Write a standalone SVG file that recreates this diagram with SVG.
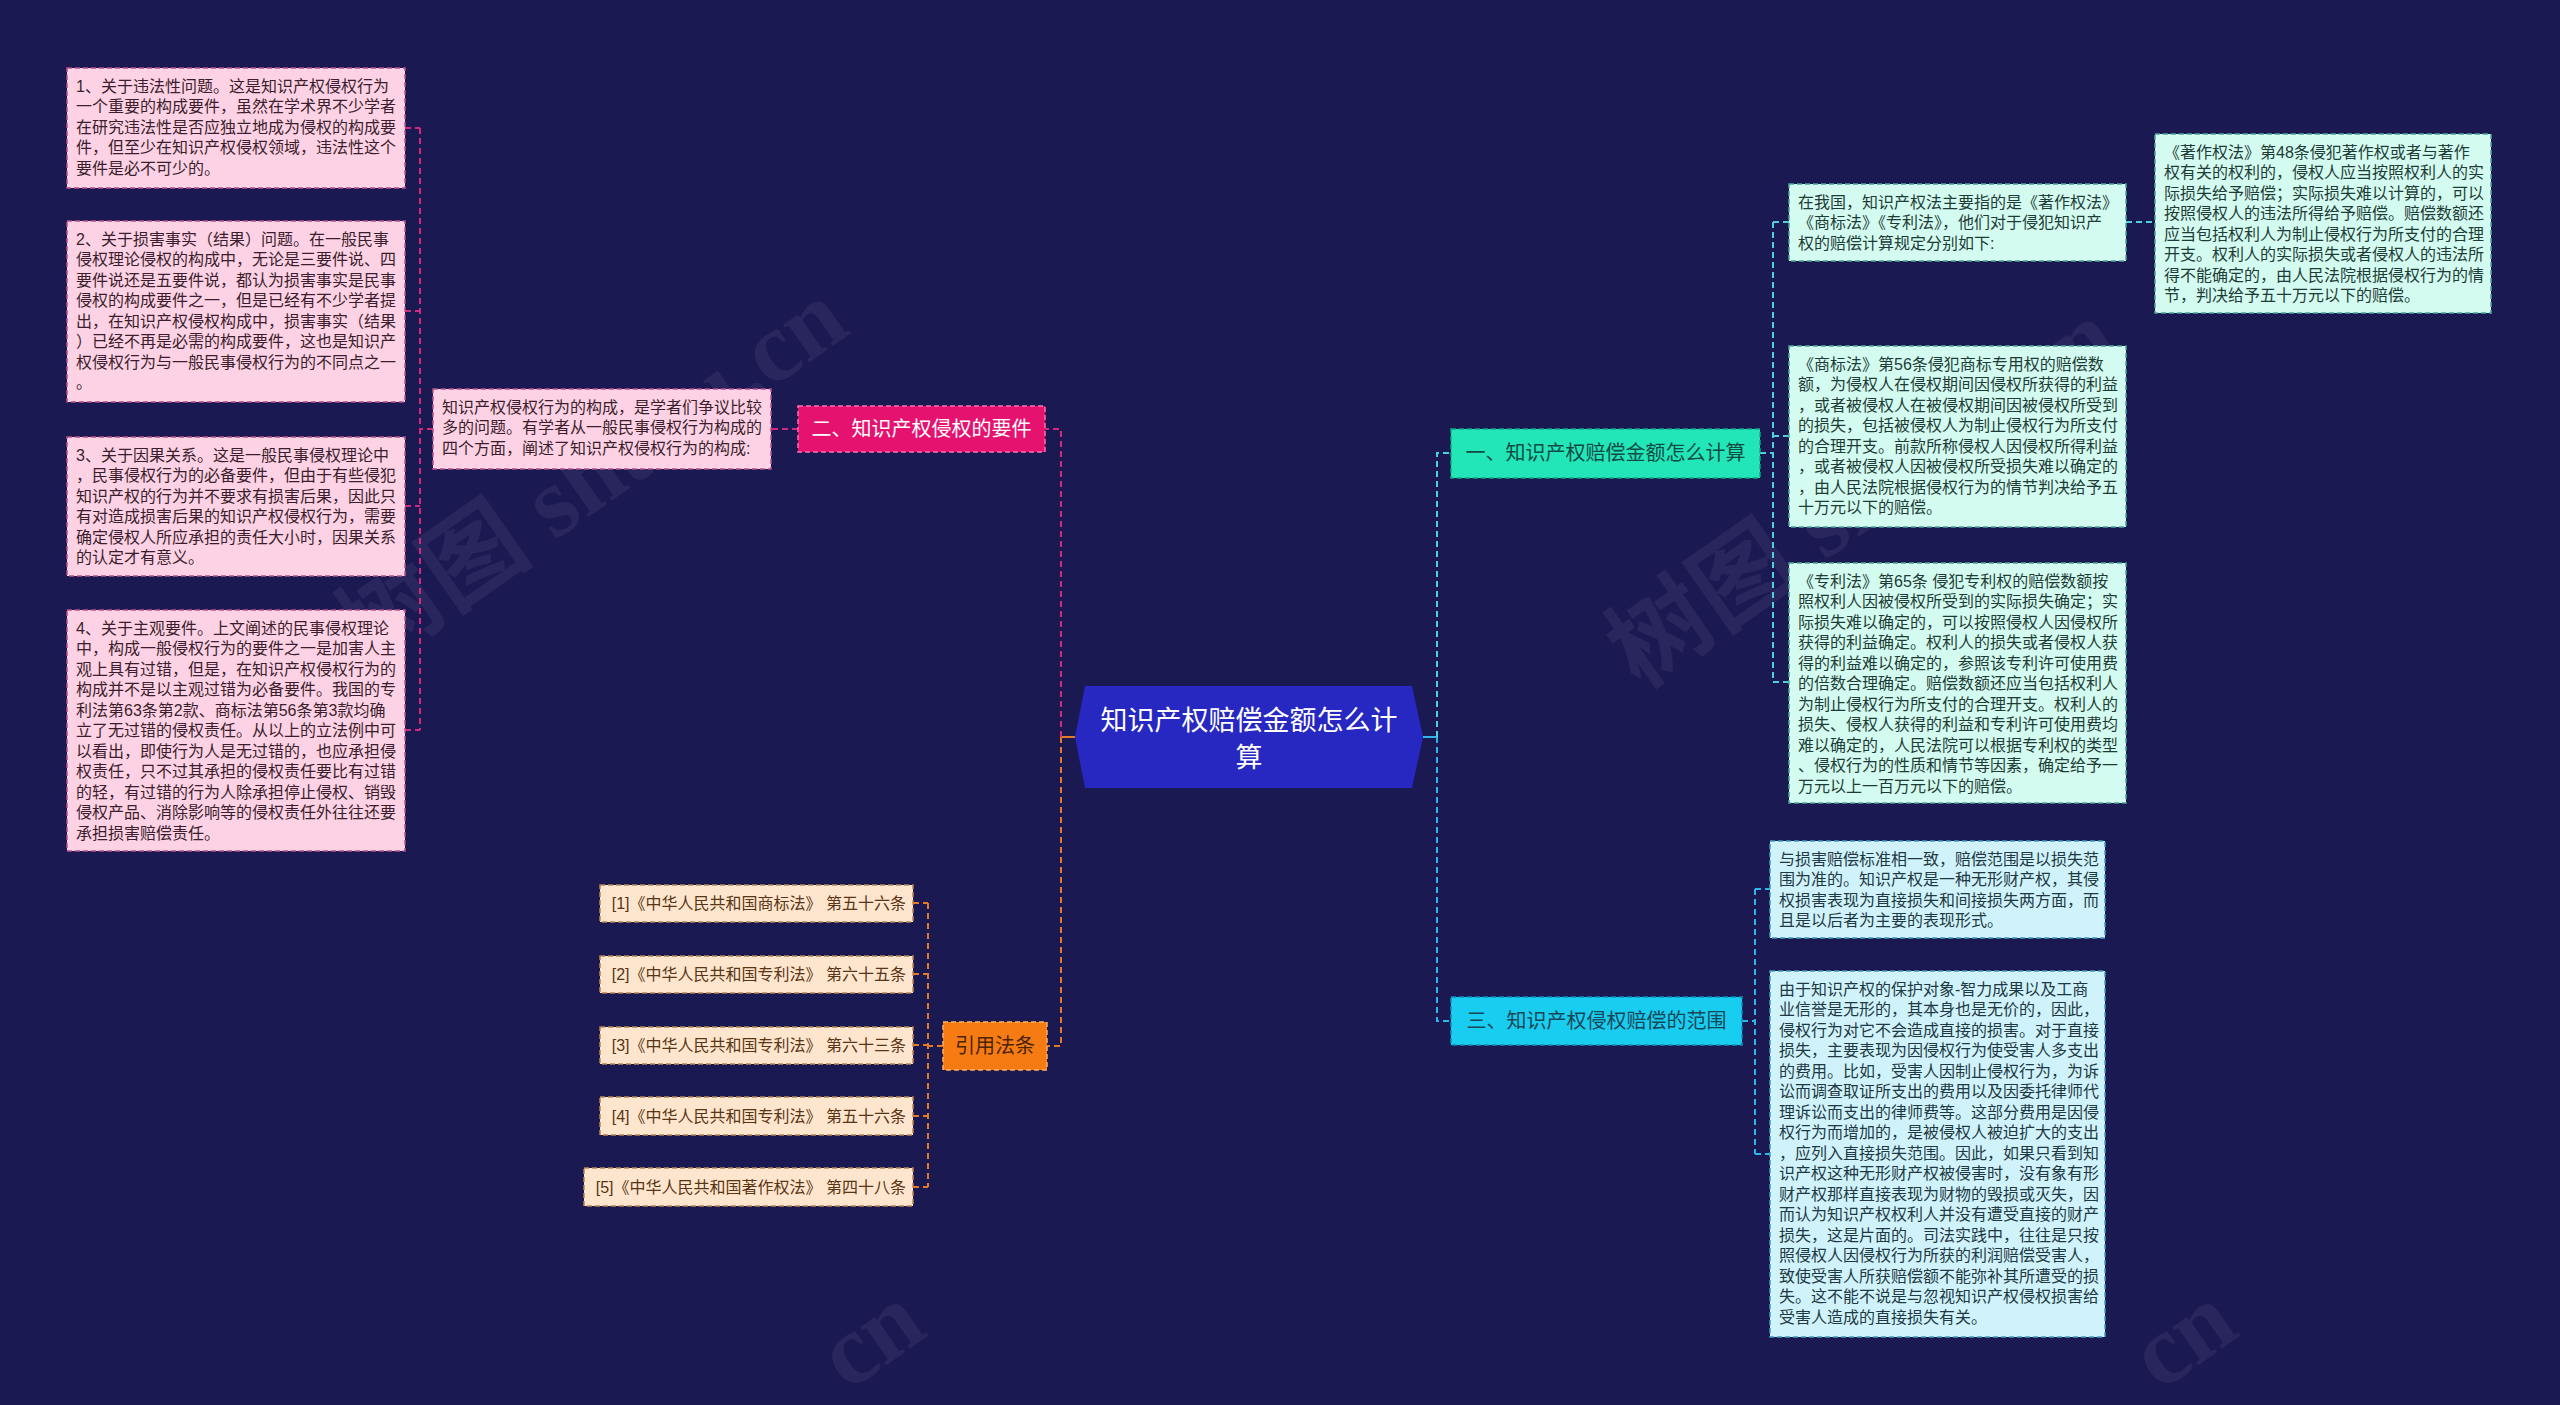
<svg xmlns="http://www.w3.org/2000/svg" width="2560" height="1405" viewBox="0 0 2560 1405">
<style>
text{font-family:"Liberation Sans","Noto Sans CJK SC",sans-serif;}
.t16{font-size:16px;}
.b20{font-size:20px;text-anchor:middle;}
.box{stroke-width:1.5;stroke-dasharray:5 3;}
.pinkLeaf{fill:#fdd2e4;stroke:#b8508a;}
.pinkTxt{fill:#3b1e2d;}
.mintLeaf{fill:#d3fbef;stroke:#4aa79a;}
.mintTxt{fill:#1f3b38;}
.skyLeaf{fill:#d0f3fb;stroke:#3f9cc0;}
.skyTxt{fill:#1e3944;}
.peachLeaf{fill:#fde6cd;stroke:#b98450;}
.peachTxt{fill:#5a3515;}
.cPink{fill:none;stroke:#d0297e;stroke-width:2;stroke-dasharray:6 4;}
.cTeal{fill:none;stroke:#4fcfdc;stroke-width:2;stroke-dasharray:6 4;}
.cSky{fill:none;stroke:#2eb6ea;stroke-width:2;stroke-dasharray:6 4;}
.cOrange{fill:none;stroke:#e27a28;stroke-width:2;stroke-dasharray:6 4;}
.wm{font-family:"Liberation Serif","Noto Sans CJK SC",serif;font-size:100px;fill:#ffffff;fill-opacity:0.06;font-weight:bold;}
</style>
<rect width="2560" height="1405" fill="#1b1952"/>

<!-- watermarks -->
<g id="watermarks">
<text class="wm" transform="translate(370,670) rotate(-35)">树图 shutu.cn</text>
<text class="wm" transform="translate(1640,690) rotate(-35)">树图 shutu.cn</text>
<text class="wm" transform="translate(848,1392) rotate(-35)">cn</text>
<text class="wm" transform="translate(2160,1392) rotate(-35)">cn</text>
</g>

<g id="connectors">
  <!-- left side from center -->
  <line x1="1075" y1="737" x2="1061" y2="737" stroke="#e27a28" stroke-width="2"/>
  <path class="cPink" d="M1061,737 V429 H1045"/>
  <path class="cOrange" d="M1061,737 V1046 H1047"/>
  <!-- branch 2 -->
  <path class="cPink" d="M798,429 H771"/>
  <path class="cPink" d="M433,429 H420"/>
  <path class="cPink" d="M420,128 V730"/>
  <path class="cPink" d="M405,128 H420 M405,311 H420 M405,506 H420 M405,730 H420"/>
  <!-- citations -->
  <path class="cOrange" d="M943,1046 H928"/>
  <path class="cOrange" d="M928,903 V1187"/>
  <path class="cOrange" d="M913,903 H928 M913,974 H928 M913,1045 H928 M913,1116 H928 M913,1187 H928"/>
  <!-- right side from center -->
  <line x1="1423" y1="737" x2="1437" y2="737" stroke="#2eb6ea" stroke-width="2"/>
  <path class="cTeal" d="M1437,737 V453 H1451"/>
  <path class="cSky" d="M1437,737 V1021 H1451"/>
  <!-- branch 1 -->
  <path class="cTeal" d="M1760,453 H1773"/>
  <path class="cTeal" d="M1773,222 V682"/>
  <path class="cTeal" d="M1773,222 H1789 M1773,436 H1789 M1773,682 H1789"/>
  <path class="cTeal" d="M2126,222 H2155"/>
  <!-- branch 3 -->
  <path class="cSky" d="M1742,1021 H1755"/>
  <path class="cSky" d="M1755,889 V1154"/>
  <path class="cSky" d="M1755,889 H1770 M1755,1154 H1770"/>
</g>

<g id="center">
  <polygon points="1075,737 1085,686 1412,686 1423,737 1412,788 1085,788" fill="#2727c2"/>
  <text x="1249" y="730" font-size="27" fill="#ffffff" text-anchor="middle">知识产权赔偿金额怎么计</text>
  <text x="1249" y="767" font-size="27" fill="#ffffff" text-anchor="middle">算</text>
</g>

<g id="branch-2">
  <rect class="box" x="798" y="406" width="247" height="46" fill="#e5136f" stroke="#ff6fae"/>
  <text class="b20" x="921.5" y="436" fill="#ffffff">二、知识产权侵权的要件</text>
</g>

<g id="branch-2-intro">
  <rect class="box pinkLeaf" x="433" y="389" width="338" height="80"/>
  <text class="t16 pinkTxt">
    <tspan x="442" y="412.5">知识产权侵权行为的构成，是学者们争议比较</tspan>
    <tspan x="442" y="433">多的问题。有学者从一般民事侵权行为构成的</tspan>
    <tspan x="442" y="453.5">四个方面，阐述了知识产权侵权行为的构成:</tspan>
  </text>
</g>

<g id="req-1">
  <rect class="box pinkLeaf" x="67" y="68" width="338" height="120"/>
  <text class="t16 pinkTxt">
    <tspan x="76" y="91.5">1、关于违法性问题。这是知识产权侵权行为</tspan>
    <tspan x="76" y="112">一个重要的构成要件，虽然在学术界不少学者</tspan>
    <tspan x="76" y="132.5">在研究违法性是否应独立地成为侵权的构成要</tspan>
    <tspan x="76" y="153">件，但至少在知识产权侵权领域，违法性这个</tspan>
    <tspan x="76" y="173.5">要件是必不可少的。</tspan>
  </text>
</g>

<g id="req-2">
  <rect class="box pinkLeaf" x="67" y="221" width="338" height="181"/>
  <text class="t16 pinkTxt">
    <tspan x="76" y="244.5">2、关于损害事实（结果）问题。在一般民事</tspan>
    <tspan x="76" y="265">侵权理论侵权的构成中，无论是三要件说、四</tspan>
    <tspan x="76" y="285.5">要件说还是五要件说，都认为损害事实是民事</tspan>
    <tspan x="76" y="306">侵权的构成要件之一，但是已经有不少学者提</tspan>
    <tspan x="76" y="326.5">出，在知识产权侵权构成中，损害事实（结果</tspan>
    <tspan x="76" y="347">）已经不再是必需的构成要件，这也是知识产</tspan>
    <tspan x="76" y="367.5">权侵权行为与一般民事侵权行为的不同点之一</tspan>
    <tspan x="76" y="388">。</tspan>
  </text>
</g>

<g id="req-3">
  <rect class="box pinkLeaf" x="67" y="437" width="338" height="139"/>
  <text class="t16 pinkTxt">
    <tspan x="76" y="460.5">3、关于因果关系。这是一般民事侵权理论中</tspan>
    <tspan x="76" y="481">，民事侵权行为的必备要件，但由于有些侵犯</tspan>
    <tspan x="76" y="501.5">知识产权的行为并不要求有损害后果，因此只</tspan>
    <tspan x="76" y="522">有对造成损害后果的知识产权侵权行为，需要</tspan>
    <tspan x="76" y="542.5">确定侵权人所应承担的责任大小时，因果关系</tspan>
    <tspan x="76" y="563">的认定才有意义。</tspan>
  </text>
</g>

<g id="req-4">
  <rect class="box pinkLeaf" x="67" y="610" width="338" height="241"/>
  <text class="t16 pinkTxt">
    <tspan x="76" y="633.5">4、关于主观要件。上文阐述的民事侵权理论</tspan>
    <tspan x="76" y="654">中，构成一般侵权行为的要件之一是加害人主</tspan>
    <tspan x="76" y="674.5">观上具有过错，但是，在知识产权侵权行为的</tspan>
    <tspan x="76" y="695">构成并不是以主观过错为必备要件。我国的专</tspan>
    <tspan x="76" y="715.5">利法第63条第2款、商标法第56条第3款均确</tspan>
    <tspan x="76" y="736">立了无过错的侵权责任。从以上的立法例中可</tspan>
    <tspan x="76" y="756.5">以看出，即使行为人是无过错的，也应承担侵</tspan>
    <tspan x="76" y="777">权责任，只不过其承担的侵权责任要比有过错</tspan>
    <tspan x="76" y="797.5">的轻，有过错的行为人除承担停止侵权、销毁</tspan>
    <tspan x="76" y="818">侵权产品、消除影响等的侵权责任外往往还要</tspan>
    <tspan x="76" y="838.5">承担损害赔偿责任。</tspan>
  </text>
</g>

<g id="branch-cite">
  <rect class="box" x="943" y="1022" width="104" height="48" fill="#f67b12" stroke="#ffb066"/>
  <text class="b20" x="995" y="1053" fill="#4a2408">引用法条</text>
</g>

<g id="cite-1">
  <rect class="box peachLeaf" x="600" y="885" width="313" height="37"/>
  <text class="t16 peachTxt" x="906" y="909" text-anchor="end">[1]《中华人民共和国商标法》 第五十六条</text>
</g>
<g id="cite-2">
  <rect class="box peachLeaf" x="600" y="956" width="313" height="37"/>
  <text class="t16 peachTxt" x="906" y="980" text-anchor="end">[2]《中华人民共和国专利法》 第六十五条</text>
</g>
<g id="cite-3">
  <rect class="box peachLeaf" x="600" y="1027" width="313" height="37"/>
  <text class="t16 peachTxt" x="906" y="1051" text-anchor="end">[3]《中华人民共和国专利法》 第六十三条</text>
</g>
<g id="cite-4">
  <rect class="box peachLeaf" x="600" y="1097" width="313" height="38"/>
  <text class="t16 peachTxt" x="906" y="1122" text-anchor="end">[4]《中华人民共和国专利法》 第五十六条</text>
</g>
<g id="cite-5">
  <rect class="box peachLeaf" x="584" y="1168" width="329" height="38"/>
  <text class="t16 peachTxt" x="906" y="1193" text-anchor="end">[5]《中华人民共和国著作权法》 第四十八条</text>
</g>

<g id="branch-1">
  <rect class="box" x="1451" y="429" width="309" height="49" fill="#22e6b8" stroke="#0fa884"/>
  <text class="b20" x="1605.5" y="460" fill="#124a44">一、知识产权赔偿金额怎么计算</text>
</g>

<g id="calc-intro">
  <rect class="box mintLeaf" x="1789" y="184" width="337" height="77"/>
  <text class="t16 mintTxt">
    <tspan x="1798" y="207.5">在我国，知识产权法主要指的是《著作权法》</tspan>
    <tspan x="1798" y="228">《商标法》《专利法》，他们对于侵犯知识产</tspan>
    <tspan x="1798" y="248.5">权的赔偿计算规定分别如下:</tspan>
  </text>
</g>

<g id="calc-copyright">
  <rect class="box mintLeaf" x="2155" y="134" width="336" height="179"/>
  <text class="t16 mintTxt">
    <tspan x="2164" y="157.5">《著作权法》第48条侵犯著作权或者与著作</tspan>
    <tspan x="2164" y="178">权有关的权利的，侵权人应当按照权利人的实</tspan>
    <tspan x="2164" y="198.5">际损失给予赔偿；实际损失难以计算的，可以</tspan>
    <tspan x="2164" y="219">按照侵权人的违法所得给予赔偿。赔偿数额还</tspan>
    <tspan x="2164" y="239.5">应当包括权利人为制止侵权行为所支付的合理</tspan>
    <tspan x="2164" y="260">开支。权利人的实际损失或者侵权人的违法所</tspan>
    <tspan x="2164" y="280.5">得不能确定的，由人民法院根据侵权行为的情</tspan>
    <tspan x="2164" y="301">节，判决给予五十万元以下的赔偿。</tspan>
  </text>
</g>

<g id="calc-trademark">
  <rect class="box mintLeaf" x="1789" y="346" width="337" height="181"/>
  <text class="t16 mintTxt">
    <tspan x="1798" y="369.5">《商标法》第56条侵犯商标专用权的赔偿数</tspan>
    <tspan x="1798" y="390">额，为侵权人在侵权期间因侵权所获得的利益</tspan>
    <tspan x="1798" y="410.5">，或者被侵权人在被侵权期间因被侵权所受到</tspan>
    <tspan x="1798" y="431">的损失，包括被侵权人为制止侵权行为所支付</tspan>
    <tspan x="1798" y="451.5">的合理开支。前款所称侵权人因侵权所得利益</tspan>
    <tspan x="1798" y="472">，或者被侵权人因被侵权所受损失难以确定的</tspan>
    <tspan x="1798" y="492.5">，由人民法院根据侵权行为的情节判决给予五</tspan>
    <tspan x="1798" y="513">十万元以下的赔偿。</tspan>
  </text>
</g>

<g id="calc-patent">
  <rect class="box mintLeaf" x="1789" y="563" width="337" height="240"/>
  <text class="t16 mintTxt">
    <tspan x="1798" y="586.5">《专利法》第65条 侵犯专利权的赔偿数额按</tspan>
    <tspan x="1798" y="607">照权利人因被侵权所受到的实际损失确定；实</tspan>
    <tspan x="1798" y="627.5">际损失难以确定的，可以按照侵权人因侵权所</tspan>
    <tspan x="1798" y="648">获得的利益确定。权利人的损失或者侵权人获</tspan>
    <tspan x="1798" y="668.5">得的利益难以确定的，参照该专利许可使用费</tspan>
    <tspan x="1798" y="689">的倍数合理确定。赔偿数额还应当包括权利人</tspan>
    <tspan x="1798" y="709.5">为制止侵权行为所支付的合理开支。权利人的</tspan>
    <tspan x="1798" y="730">损失、侵权人获得的利益和专利许可使用费均</tspan>
    <tspan x="1798" y="750.5">难以确定的，人民法院可以根据专利权的类型</tspan>
    <tspan x="1798" y="771">、侵权行为的性质和情节等因素，确定给予一</tspan>
    <tspan x="1798" y="791.5">万元以上一百万元以下的赔偿。</tspan>
  </text>
</g>

<g id="branch-3">
  <rect class="box" x="1451" y="997" width="291" height="48" fill="#18cdf0" stroke="#0b8fb8"/>
  <text class="b20" x="1596.5" y="1028" fill="#1a4656">三、知识产权侵权赔偿的范围</text>
</g>

<g id="scope-1">
  <rect class="box skyLeaf" x="1770" y="841" width="335" height="97"/>
  <text class="t16 skyTxt">
    <tspan x="1779" y="864.5">与损害赔偿标准相一致，赔偿范围是以损失范</tspan>
    <tspan x="1779" y="885">围为准的。知识产权是一种无形财产权，其侵</tspan>
    <tspan x="1779" y="905.5">权损害表现为直接损失和间接损失两方面，而</tspan>
    <tspan x="1779" y="926">且是以后者为主要的表现形式。</tspan>
  </text>
</g>

<g id="scope-2">
  <rect class="box skyLeaf" x="1770" y="971" width="335" height="366"/>
  <text class="t16 skyTxt">
    <tspan x="1779" y="994.5">由于知识产权的保护对象-智力成果以及工商</tspan>
    <tspan x="1779" y="1015">业信誉是无形的，其本身也是无价的，因此，</tspan>
    <tspan x="1779" y="1035.5">侵权行为对它不会造成直接的损害。对于直接</tspan>
    <tspan x="1779" y="1056">损失，主要表现为因侵权行为使受害人多支出</tspan>
    <tspan x="1779" y="1076.5">的费用。比如，受害人因制止侵权行为，为诉</tspan>
    <tspan x="1779" y="1097">讼而调查取证所支出的费用以及因委托律师代</tspan>
    <tspan x="1779" y="1117.5">理诉讼而支出的律师费等。这部分费用是因侵</tspan>
    <tspan x="1779" y="1138">权行为而增加的，是被侵权人被迫扩大的支出</tspan>
    <tspan x="1779" y="1158.5">，应列入直接损失范围。因此，如果只看到知</tspan>
    <tspan x="1779" y="1179">识产权这种无形财产权被侵害时，没有象有形</tspan>
    <tspan x="1779" y="1199.5">财产权那样直接表现为财物的毁损或灭失，因</tspan>
    <tspan x="1779" y="1220">而认为知识产权权利人并没有遭受直接的财产</tspan>
    <tspan x="1779" y="1240.5">损失，这是片面的。司法实践中，往往是只按</tspan>
    <tspan x="1779" y="1261">照侵权人因侵权行为所获的利润赔偿受害人，</tspan>
    <tspan x="1779" y="1281.5">致使受害人所获赔偿额不能弥补其所遭受的损</tspan>
    <tspan x="1779" y="1302">失。这不能不说是与忽视知识产权侵权损害给</tspan>
    <tspan x="1779" y="1322.5">受害人造成的直接损失有关。</tspan>
  </text>
</g>
</svg>
